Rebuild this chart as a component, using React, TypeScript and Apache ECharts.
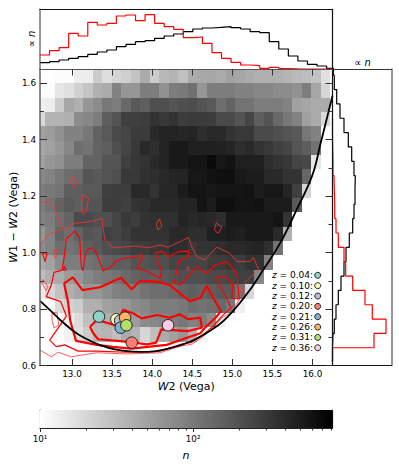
import React, { useEffect, useRef } from "react";
import * as echarts from "echarts";

const FONT = "DejaVu Sans";

// axis ranges and ticks
const xRange = [12.6, 16.25];
const yRange = [0.6, 1.65];
const xTicks = [13, 13.5, 14, 14.5, 15, 15.5, 16];
const yMajorTicks = [0.6, 0.8, 1.0, 1.2, 1.4, 1.6];
const yMinorTicks = [0.7, 0.9, 1.1, 1.3, 1.5];

const nMin = 10;
const nMax = 813;
const heatX0 = 12.55;
const heatDx = 0.1185;
const heatYTop = 1.65;
const heatDy = 0.0508;
const heatLevels = [
  [0,0,1,1,7,7,20,13,17,19,24,33,20,28,30,25,33,34,35,33,37,35,33,31,31,31,29,27,26,24,12],
  [1,1,10,12,18,23,31,33,49,41,41,51,51,43,51,52,56,41,51,51,51,49,49,47,47,45,45,43,51,35,16],
  [6,7,20,35,31,41,45,53,51,59,65,63,69,69,67,69,70,67,65,57,61,55,55,51,51,51,49,37,35,33,33],
  [15,30,30,31,45,47,51,63,67,75,75,76,80,78,80,76,77,77,76,71,71,67,73,63,67,59,53,49,37,33,15],
  [37,39,43,49,49,53,61,65,71,73,77,77,84,86,86,85,86,82,84,84,80,78,78,71,71,69,67,65,53,49,0],
  [35,37,41,47,57,55,61,63,69,73,78,84,82,86,90,90,88,88,88,87,86,82,84,80,78,75,73,67,63,55,0],
  [37,41,43,51,51,61,61,67,67,75,78,80,84,86,90,90,92,92,96,91,93,88,88,88,82,80,78,73,72,10,0],
  [47,49,53,57,59,67,65,67,69,78,78,81,82,84,86,86,91,91,93,94,94,90,89,89,84,84,80,80,60,0,0],
  [51,53,55,63,63,65,65,75,76,76,84,84,80,85,85,89,92,92,91,92,92,92,93,89,91,91,86,75,17,0,0],
  [51,55,61,65,63,67,67,76,76,75,80,81,84,84,84,86,86,92,89,94,94,92,92,93,89,89,89,65,0,0,0],
  [49,51,57,61,71,71,69,69,73,78,76,80,81,81,81,86,84,85,84,82,90,90,90,90,90,92,80,0,0,0,0],
  [41,49,61,57,61,67,65,75,73,76,80,80,80,80,84,84,82,82,88,88,89,88,90,90,90,84,31,0,0,0,0],
  [45,49,57,55,57,63,65,69,71,73,76,76,78,78,82,82,78,80,80,82,84,84,85,86,82,55,0,0,0,0,0],
  [33,37,45,51,51,55,57,61,63,63,67,67,69,69,73,73,73,73,76,76,78,76,80,80,49,0,0,0,0,0,0],
  [25,31,33,39,41,47,51,53,55,59,61,63,63,65,67,69,69,69,71,71,73,75,75,47,0,0,0,0,0,0,0],
  [8,16,24,31,35,41,41,45,49,51,51,55,57,57,59,61,63,61,63,65,65,55,16,0,0,0,0,0,0,0,0],
  [1,2,14,18,20,31,31,37,39,41,45,47,51,51,51,53,57,55,57,59,53,6,0,0,0,0,0,0,0,0,0],
  [0,0,0,5,14,25,29,31,33,37,39,45,47,49,51,53,49,51,45,5,0,0,0,0,0,0,0,0,0,0,0],
  [0,0,0,5,12,20,28,29,25,33,30,16,25,33,37,41,30,3,0,0,0,0,0,0,0,0,0,0,0,0,0],
];

// red contours (x, y)
const contourThickOuter = [
  [12.90,.891],[13.01,.912],[13.13,.867],[13.35,.877],[13.61,.911],[13.745,.870],[13.85,.900],[14.06,.897],
  [14.22,.885],[14.37,.850],[14.47,.828],[14.60,.839],[14.68,.882],[14.76,.840],[14.86,.793],[14.80,.772],
  [14.66,.734],[14.60,.714],[14.47,.702],[14.18,.673],[13.97,.667],[13.74,.660],[13.51,.666],[13.31,.673],
  [13.05,.687],[12.975,.761],[12.95,.826],[12.90,.891],
];
const contourThickInner = [
  [13.225,.737],[13.31,.761],[13.54,.743],[13.64,.797],[13.76,.785],[13.87,.767],[14.06,.779],[14.22,.769],
  [14.345,.781],[14.45,.764],[14.60,.769],[14.62,.734],[14.45,.722],[14.115,.728],[14.05,.681],[13.93,.675],
  [13.78,.681],[13.57,.687],[13.325,.693],[13.26,.716],[13.225,.737],
];
const contourMedium = [
  [12.929,1.050],[13.034,1.076],[13.096,1.050],[13.116,.950],[13.137,.935],[13.166,.994],[13.200,1.012],
  [13.262,1.017],[13.303,.999],[13.366,.952],[13.387,.935],[13.471,.946],[13.553,.970],[13.678,.982],
  [13.803,.982],[13.865,.997],[13.878,.980],[13.808,.944],[13.952,.932],[14.098,.909],[14.120,.932],
  [14.036,.997],[14.120,1.005],[14.202,.985],[14.327,1.003],[14.452,1.005],[14.452,.985],[14.327,.968],
  [14.277,.891],[14.348,.885],[14.557,.950],[14.681,.926],[14.785,.956],[14.931,.968],[15.056,.926],
  [15.085,.836],[14.994,.838],[15.006,.891],[14.910,.915],[14.806,.915],[14.826,.891],[14.931,.838],
  [14.985,.804],[14.869,.775],[14.764,.740],[14.619,.705],[14.494,.682],[14.369,.676],[14.098,.651],
  [13.683,.647],[13.308,.651],[13.075,.651],[12.909,.673],[12.804,.667],[12.721,.690],[12.929,.775],
  [12.859,.826],[12.679,.844],[12.741,.885],[12.775,.930],[12.875,.938],[12.900,.980],[12.929,1.050],
];
const contourThin = [
  [12.600,1.178],[12.725,1.180],[12.788,1.151],[12.891,1.080],[13.037,1.104],[13.225,1.109],[13.371,1.121],
  [13.391,1.080],[13.408,1.047],[13.512,1.017],[13.783,1.023],[13.952,1.017],[14.098,1.027],[14.202,1.019],
  [14.327,1.036],[14.452,1.053],[14.494,1.021],[14.557,.985],[14.660,.974],[14.806,1.019],[14.972,.997],
  [15.056,.968],[15.222,.968],[15.264,.982],[15.326,.941],[15.138,.888],[15.118,.846],[15.035,.811],
  [15.014,.793],[14.869,.769],[14.764,.734],[14.619,.699],[14.494,.675],[14.369,.670],[14.098,.645],
  [13.683,.641],[13.308,.645],[12.991,.631],[12.825,.647],[12.741,.631],[12.597,.655],
];
const contourThinLeft = [[12.600,1.027],[12.713,1.066],[12.875,1.083]];
const contourLoopsThin = [
  [[13.029,1.271],[13.062,1.243],[13.025,1.233],[12.971,1.250],[13.029,1.271]],
  [[13.137,1.206],[13.208,1.193],[13.175,1.144],[13.137,1.135],[13.116,1.165],[13.137,1.206]],
  [[14.090,1.119],[14.120,1.094],[14.074,1.080],[14.052,1.101],[14.090,1.119]],
  [[14.798,1.105],[14.869,1.090],[14.823,1.068],[14.776,1.080],[14.798,1.105]],
  [[14.444,.951],[14.463,.944],[14.444,.937],[14.425,.944],[14.444,.951]],
  [[12.794,1.015],[12.816,.995],[12.794,.980],[12.763,.995],[12.794,1.015]],
  [[12.638,.905],[12.700,.878],[12.675,.866],[12.625,.892],[12.638,.905]],
  [[12.750,.789],[12.813,.786],[12.834,.743],[12.775,.733],[12.750,.761],[12.750,.789]],
];
const contourLoopsMedium = [
  [[12.629,.999],[12.688,.999],[12.663,.968],[12.629,.999]],
  [[12.906,.952],[12.925,.938],[12.888,.938],[12.906,.952]],
];

// black curve
const blackCurve = [
  [12.6,.829],[12.725,.796],[12.85,.762],[13.0,.726],[13.15,.698],[13.35,.672],[13.55,.656],[13.76,.649],
  [13.95,.648],[14.13,.655],[14.47,.684],[14.82,.742],[15.0,.79],[15.2,.86],[15.4,.945],[15.6,1.035],
  [15.8,1.15],[16.0,1.275],[16.1,1.385],[16.25,1.555],
];

// top histogram
const topBinStart = 12.6;
const topBinWidth = 0.1192;
const topRed = [14,18.3,21.3,35.7,33,46.7,44,45.7,53,54,48.3,54.3,45.7,42.3,39.7,31.3,32,25.7,16.3,10.7,6.7,4,3.3,.7,1.7,.5,.2,0,0,0,0];
const topBlack = [6.3,7.3,9,10.7,12.3,14.7,17,19,22.3,24.7,27.3,28.3,30.7,33,35,37.3,40,41,41.7,42.3,41.3,40,37.3,36.3,27.3,20,13,8,4.7,3,.7];

// right histogram (bins from bottom to top)
const rightBinStart = 0.612;
const rightBinHeight = 0.0508;
const rightRed = [0,41.5,53.5,39.8,32.5,20.2,13.2,11.5,5.8,3.5,2.2,1.8,1.5,.5,.2,0,0];
const rightBlack = [0,.5,1.8,3.5,5.8,8.5,11.5,13.5,16.8,20.2,21.5,22.5,22.8,21.5,19.2,15.8,11.5,7.5,4.2,1.8,.8];

// coloured points
const zLabels = ["0.04", "0.10", "0.12", "0.20", "0.21", "0.26", "0.31", "0.36"];
const zColors = ["#8dd3c7", "#ffffb3", "#bebada", "#fb8072", "#80b1d3", "#fdb462", "#b3de69", "#fccde5"];
const zX = [13.336, 13.553, 13.60, 13.745, 13.607, 13.661, 13.678, 14.198];
const zY = [.773, .7636, .759, .681, .734, .7695, .7424, .7424];

// colour bar ticks
const barMajor = [10, 100];
const barMinor = [20, 30, 40, 50, 60, 70, 80, 90, 200, 300, 400, 500, 600, 700, 800];
const barLabels: Record<string, string> = { "1": "10\u00b9", "2": "10\u00b2" };

const stepX = (start: number, w: number, vals: number[]) => {
  const pts: number[][] = [];
  vals.forEach((v, i) => { pts.push([start + i * w, v], [start + (i + 1) * w, v]); });
  return pts;
};
const stepY = (start: number, h: number, vals: number[]) => {
  const pts: number[][] = [];
  vals.forEach((v, i) => { pts.push([v, start + i * h], [v, start + (i + 1) * h]); });
  return pts;
};
const levelToN = (level: number) => nMin * Math.pow(nMax / nMin, level / 100);
const nToGray = (n: number) => {
  const t = Math.log10(n / nMin) / Math.log10(nMax / nMin);
  const g = Math.round(255 * (1 - t));
  return `rgb(${g},${g},${g})`;
};

function buildOption() {
  const heatData: number[][] = [];
  heatLevels.forEach((row, r) => row.forEach((lv, c) => {
    if (lv > 0) heatData.push([c, r, levelToN(lv)]);
  }));

  const textBase = { fontFamily: FONT, color: "#000" };
  const hiddenAxis = { axisLabel: { show: false }, axisTick: { show: false }, splitLine: { show: false } };
  const tickLine = { color: "#333", width: 1 };
  const spine = (color: string, width = 1.2) => ({ show: true, onZero: false, lineStyle: { color, width } });
  const mainX = { type: "value", gridIndex: 0, min: xRange[0], max: xRange[1], splitLine: { show: false }, z: 6 };
  const mainY = { type: "value", gridIndex: 0, min: yRange[0], max: yRange[1], splitLine: { show: false }, z: 6 };
  const lineSeries = (data: number[][], color: string, width: number, z = 3) => ({
    type: "line", xAxisIndex: 0, yAxisIndex: 0, data, showSymbol: false, symbol: "none", clip: true, z,
    lineStyle: { color, width }, silent: true,
  });
  const histSeries = (data: number[][], color: string, axis: number) => ({
    type: "line", xAxisIndex: axis, yAxisIndex: axis === 2 ? 4 : 5, data, showSymbol: false, symbol: "none",
    clip: true, lineStyle: { color, width: 1.2 }, silent: true,
  });
  const titleRich = { i: { fontStyle: "italic", fontSize: 11, fontFamily: FONT, color: "#000" } };
  const propRich = {
    p: { fontSize: 10, fontFamily: FONT, fill: "#000" },
    i: { fontStyle: "italic", fontSize: 10, fontFamily: FONT, fill: "#000" },
  };

  return {
    animation: false,
    grid: [
      { left: 40, top: 69, width: 292.5, height: 296.5, outerBoundsMode: "none" },
      { left: 40, top: 9.3, width: 292.5, height: 59.7, outerBoundsMode: "none" },
      { left: 332.5, top: 69, width: 59, height: 296.5, outerBoundsMode: "none" },
      { left: 40, top: 410, width: 292.5, height: 18, outerBoundsMode: "none" },
    ],
    xAxis: [
      {
        ...mainX, position: "bottom",
        axisLine: spine("#111"),
        axisTick: { show: true, inside: true, length: 6.5, lineStyle: tickLine, customValues: xTicks },
        axisLabel: {
          show: true, customValues: xTicks, margin: 4, fontSize: 8.8, ...textBase,
          formatter: (v: number) => v.toFixed(1),
        },
        name: "{i|W}2 (Vega)", nameLocation: "middle", nameGap: 15, nameMoveOverlap: false,
        nameTextStyle: { fontSize: 11, ...textBase, rich: titleRich },
      },
      {
        ...mainX, position: "top",
        axisLine: spine("#555"),
        axisTick: { show: true, inside: true, length: 6.5, lineStyle: tickLine, customValues: xTicks },
        axisLabel: { show: false },
      },
      { type: "value", gridIndex: 1, min: xRange[0], max: xRange[1], ...hiddenAxis, axisLine: { show: false } },
      { type: "value", gridIndex: 2, min: 0, max: 59, ...hiddenAxis, axisLine: spine("#333"), position: "top" },
      {
        type: "value", gridIndex: 3, min: 1, max: Math.log10(nMax), splitLine: { show: false },
        axisLine: spine("#222"),
        axisTick: { show: true, length: 4, lineStyle: tickLine, customValues: barMajor.map(Math.log10) },
        axisLabel: {
          show: true, customValues: barMajor.map(Math.log10), margin: 6, fontSize: 8.8, ...textBase,
          formatter: (v: number) => barLabels[String(Math.round(v))],
        },
      },
      {
        type: "value", gridIndex: 3, min: 1, max: Math.log10(nMax), splitLine: { show: false }, position: "bottom",
        axisLine: { show: false }, axisLabel: { show: false },
        axisTick: { show: true, length: 2.5, lineStyle: tickLine, customValues: barMinor.map(Math.log10) },
      },
      { type: "value", gridIndex: 1, min: xRange[0], max: xRange[1], ...hiddenAxis, axisLine: spine("#111"), position: "top" },
      { type: "value", gridIndex: 2, min: 0, max: 59, ...hiddenAxis, axisLine: spine("#111"), position: "bottom" },
      { type: "value", gridIndex: 3, min: 1, max: Math.log10(nMax), ...hiddenAxis, axisLine: spine("#777"), position: "top" },
    ],
    yAxis: [
      {
        ...mainY, position: "left",
        axisLine: spine("#666", 1.5),
        axisTick: { show: true, inside: true, length: 7, lineStyle: tickLine, customValues: yMajorTicks },
        axisLabel: {
          show: true, customValues: yMajorTicks, margin: 4, fontSize: 8.8, ...textBase,
          formatter: (v: number) => v.toFixed(1),
        },
        name: "{i|W}1 \u2212 {i|W}2 (Vega)", nameLocation: "middle", nameGap: 21, nameMoveOverlap: false,
        nameTextStyle: { fontSize: 11, ...textBase, rich: titleRich },
      },
      {
        ...mainY, position: "left", axisLine: { show: false }, axisLabel: { show: false },
        axisTick: { show: true, inside: true, length: 4, lineStyle: tickLine, customValues: yMinorTicks },
      },
      {
        ...mainY, position: "right", axisLine: spine("#111"), axisLabel: { show: false },
        axisTick: { show: true, inside: true, length: 7, lineStyle: tickLine, customValues: yMajorTicks },
      },
      {
        ...mainY, position: "right", axisLine: { show: false }, axisLabel: { show: false },
        axisTick: { show: true, inside: true, length: 4, lineStyle: tickLine, customValues: yMinorTicks },
      },
      { type: "value", gridIndex: 1, min: 0, max: 59.7, ...hiddenAxis, axisLine: spine("#777", 1.5), position: "left" },
      { type: "value", gridIndex: 2, min: yRange[0], max: yRange[1], ...hiddenAxis, axisLine: spine("#777", 1.5), position: "right" },
      { type: "value", gridIndex: 3, min: 0, max: 1, ...hiddenAxis, axisLine: spine("#777"), position: "left" },
      { type: "value", gridIndex: 3, min: 0, max: 1, ...hiddenAxis, axisLine: spine("#111"), position: "right" },
      { type: "value", gridIndex: 1, min: 0, max: 59.7, ...hiddenAxis, axisLine: spine("#111"), position: "right" },
    ],
    series: [
      {
        type: "custom", xAxisIndex: 0, yAxisIndex: 0, data: heatData, z: 1, silent: true,
        renderItem: (params: any, api: any) => {
          const c = api.value(0), r = api.value(1), n = api.value(2);
          const p0 = api.coord([heatX0 + c * heatDx, heatYTop - r * heatDy]);
          const p1 = api.coord([heatX0 + (c + 1) * heatDx, heatYTop - (r + 1) * heatDy]);
          const x = Math.round(p0[0]), y = Math.round(p0[1]);
          const shape = echarts.graphic.clipRectByRect(
            { x, y, width: Math.round(p1[0]) - x, height: Math.round(p1[1]) - y },
            params.coordSys
          );
          if (!shape) return null;
          return { type: "rect", shape, style: { fill: nToGray(n) } };
        },
      },
      ...contourLoopsThin.map((d) => lineSeries(d, "#f33", 0.8)),
      ...contourLoopsMedium.map((d) => lineSeries(d, "#f00", 1.2)),
      lineSeries(contourThinLeft, "#f33", 0.8),
      lineSeries(contourThin, "#f33", 0.8),
      lineSeries(contourMedium, "#f00", 1.2),
      lineSeries(contourThickOuter, "#f00", 2.2),
      lineSeries(contourThickInner, "#f00", 2.2),
      { ...lineSeries(blackCurve, "#000", 1.8, 4), smooth: 0.4 },
      {
        type: "scatter", xAxisIndex: 0, yAxisIndex: 0, z: 5, symbolSize: 11.5, silent: true,
        data: zX.map((x, i) => ({
          value: [x, zY[i]],
          itemStyle: { color: zColors[i], borderColor: "#222", borderWidth: 1, opacity: 1 },
        })),
      },
      histSeries(stepX(topBinStart, topBinWidth, topBlack), "#000", 2),
      histSeries(stepX(topBinStart, topBinWidth, topRed), "#f00", 2),
      histSeries(stepY(rightBinStart, rightBinHeight, rightBlack), "#000", 3),
      histSeries(stepY(rightBinStart, rightBinHeight, rightRed), "#f00", 3),
      {
        type: "custom", xAxisIndex: 4, yAxisIndex: 6, data: [[1, Math.log10(nMax)]], z: 1, silent: true,
        renderItem: (_p: any, api: any) => {
          const a = api.coord([api.value(0), 1]);
          const b = api.coord([api.value(1), 0]);
          return {
            type: "rect",
            shape: { x: a[0], y: a[1], width: b[0] - a[0], height: b[1] - a[1] },
            style: {
              fill: new echarts.graphic.LinearGradient(0, 0, 1, 0, [
                { offset: 0, color: "#fff" },
                { offset: 1, color: "#000" },
              ]),
            },
          };
        },
      },
    ],
    graphic: [
      {
        type: "text", x: 31, y: 39, rotation: Math.PI / 2, silent: true,
        style: {
          text: "{p|\u221d} {i|n}", align: "center", verticalAlign: "middle", fontSize: 10, fontFamily: FONT, fill: "#000",
          rich: propRich,
        },
      },
      {
        type: "text", x: 362.5, y: 62, silent: true,
        style: {
          text: "{p|\u221d} {i|n}", align: "center", verticalAlign: "middle", fontSize: 10, fontFamily: FONT, fill: "#000",
          rich: propRich,
        },
      },
      {
        type: "text", x: 186, y: 455, silent: true,
        style: { text: "n", align: "center", verticalAlign: "middle", fontSize: 11, fontStyle: "italic", fontFamily: FONT, fill: "#000" },
      },
      ...zLabels.flatMap((z, i) => {
        const y = 275.3 + i * 10.35;
        return [
          {
            type: "text", x: 313, y, silent: true, z: 20,
            style: {
              text: `{i|z} = ${z}:`, align: "right", verticalAlign: "middle", fontSize: 9, fontFamily: FONT, fill: "#000",
              rich: { i: { fontStyle: "italic", fontSize: 9, fontFamily: FONT } },
            },
          },
          {
            type: "circle", silent: true, z: 20,
            shape: { cx: 317.7, cy: y, r: 3 },
            style: { fill: zColors[i], stroke: "#222", lineWidth: 1 },
          },
        ];
      }),
    ],
  };
}

export default function App() {
  const ref = useRef<HTMLDivElement>(null);
  useEffect(() => {
    document.body.style.margin = "0";
    const chart = echarts.init(ref.current!, undefined, { renderer: "svg" });
    chart.setOption(buildOption() as any);
    return () => chart.dispose();
  }, []);
  return <div ref={ref} style={{ width: 399, height: 465, background: "#fff" }} />;
}
